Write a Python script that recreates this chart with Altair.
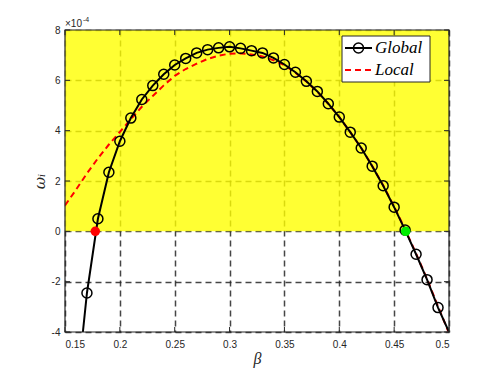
import altair as alt
import pandas as pd

# ---- data (omega_i in units of 1e-4) ----
global_beta = [0.17, 0.18, 0.19, 0.20, 0.21, 0.22, 0.23, 0.24, 0.25, 0.26, 0.27,
               0.28, 0.29, 0.30, 0.31, 0.32, 0.33, 0.34, 0.35, 0.36, 0.37, 0.38,
               0.39, 0.40, 0.41, 0.42, 0.43, 0.44, 0.45, 0.46, 0.47, 0.48, 0.49]
global_omega = [-2.45, 0.50, 2.35, 3.58, 4.50, 5.24, 5.79, 6.24, 6.61, 6.87, 7.09,
                7.22, 7.29, 7.33, 7.27, 7.18, 7.09, 6.89, 6.63, 6.32, 5.96, 5.56,
                5.07, 4.54, 3.94, 3.31, 2.59, 1.81, 0.96, 0.05, -0.91, -1.92, -3.03]
# line ends where it leaves the axes
global_line_beta = [0.1663] + global_beta + [0.50]
global_line_omega = [-4.0] + global_omega + [-4.0]

local_beta = [0.15, 0.16, 0.17, 0.18, 0.19, 0.20, 0.21, 0.22, 0.23, 0.24, 0.25,
              0.26, 0.27, 0.28, 0.29, 0.30, 0.31, 0.32, 0.33, 0.34, 0.35, 0.36,
              0.37, 0.38, 0.39, 0.40, 0.41, 0.42, 0.43, 0.44, 0.45, 0.46, 0.47,
              0.48, 0.49, 0.50]
local_omega = [1.03, 1.65, 2.30, 2.90, 3.45, 3.95, 4.45, 4.95, 5.38, 5.80, 6.18,
               6.45, 6.66, 6.85, 6.98, 7.06, 7.07, 7.03, 6.95, 6.80, 6.60, 6.30,
               5.95, 5.55, 5.07, 4.54, 3.94, 3.31, 2.60, 1.83, 0.98, 0.08, -0.88,
               -1.90, -2.98, -4.05]

red_point = [0.1776, 0.0]
green_point = [0.4605, 0.0]

x_ticks = [0.15, 0.2, 0.25, 0.3, 0.35, 0.4, 0.45, 0.5]
y_ticks = [-4, -2, 0, 2, 4, 6, 8]
band = [0, 8]

W, H = 384, 302
X_DOM = [0.15, 0.5]
Y_DOM = [-4, 8]
AX = "#262626"

xs = alt.Scale(domain=X_DOM, nice=False, zero=False)
ys = alt.Scale(domain=Y_DOM, nice=False, zero=False)

df_g = pd.DataFrame({"beta": global_beta, "omega": global_omega})
df_gl = pd.DataFrame({"beta": global_line_beta, "omega": global_line_omega})
df_l = pd.DataFrame({"beta": local_beta, "omega": local_omega})
df_pts = pd.DataFrame({"beta": [red_point[0], green_point[0]],
                       "omega": [red_point[1], green_point[1]],
                       "c": ["#FF0000", "#00EE00"]})
df_band = pd.DataFrame({"lo": [band[0]], "hi": [band[1]]})
df_xt = pd.DataFrame({"v": x_ticks})
df_yt = pd.DataFrame({"v": y_ticks})

x_axis = alt.Axis(values=x_ticks, format="~g", grid=True, gridDash=[6, 4],
                  gridColor=AX, gridOpacity=0.85, gridWidth=1.5, domain=False, ticks=False,
                  labelFont="Liberation Sans", labelFontSize=10, labelColor=AX,
                  labelPadding=7, title="β", titleFont="Liberation Serif",
                  titleFontStyle="italic", titleFontWeight="normal", titleFontSize=16,
                  titleColor=AX, titleY=26, titleBaseline="middle")
y_axis = alt.Axis(values=y_ticks, grid=True, gridDash=[6, 4], gridColor=AX,
                  gridOpacity=0.85, gridWidth=1.5, domain=False, ticks=False,
                  labelExpr="replace(datum.label, '−', '-')",
                  labelFont="Liberation Sans", labelFontSize=10, labelColor=AX,
                  labelPadding=5, title="ωᵢ", titleFont="DejaVu Serif",
                  titleFontStyle="italic", titleFontWeight="normal", titleFontSize=15,
                  titleColor=AX, titleX=-26, titleY=151, titleAngle=270,
                  titleAlign="center", titleBaseline="middle")

base_axes = alt.Chart(df_g).mark_point(opacity=0).encode(
    x=alt.X("beta:Q", scale=xs, axis=x_axis),
    y=alt.Y("omega:Q", scale=ys, axis=y_axis),
)

yellow = alt.Chart(df_band).mark_rect(color="#FFFF00", opacity=0.8).encode(
    x=alt.value(0), x2=alt.value(W),
    y=alt.Y("hi:Q", scale=ys), y2="lo:Q",
)

local_line = alt.Chart(df_l).mark_line(color="#FF0000", strokeWidth=2,
                                       strokeDash=[6, 4], clip=True).encode(
    x=alt.X("beta:Q", scale=xs), y=alt.Y("omega:Q", scale=ys))

global_line = alt.Chart(df_gl).mark_line(color="#000000", strokeWidth=2,
                                         clip=True).encode(
    x=alt.X("beta:Q", scale=xs), y=alt.Y("omega:Q", scale=ys))

global_pts = alt.Chart(df_g).mark_point(shape="circle", filled=False, color="#000000",
                                        size=100, strokeWidth=1.5, opacity=1).encode(
    x=alt.X("beta:Q", scale=xs), y=alt.Y("omega:Q", scale=ys))

dots = alt.Chart(df_pts).mark_point(shape="circle", filled=True, size=90,
                                    opacity=1).encode(
    x=alt.X("beta:Q", scale=xs), y=alt.Y("omega:Q", scale=ys),
    color=alt.Color("c:N", scale=None))

# inward ticks on all four sides
tk = 5
xt_bot = alt.Chart(df_xt).mark_rule(color=AX, strokeWidth=1).encode(
    x=alt.X("v:Q", scale=xs), y=alt.value(H - tk), y2=alt.value(H))
xt_top = alt.Chart(df_xt).mark_rule(color=AX, strokeWidth=1).encode(
    x=alt.X("v:Q", scale=xs), y=alt.value(0), y2=alt.value(tk))
yt_left = alt.Chart(df_yt).mark_rule(color=AX, strokeWidth=1).encode(
    y=alt.Y("v:Q", scale=ys), x=alt.value(0), x2=alt.value(tk))
yt_right = alt.Chart(df_yt).mark_rule(color=AX, strokeWidth=1).encode(
    y=alt.Y("v:Q", scale=ys), x=alt.value(W - tk), x2=alt.value(W))

frame = alt.Chart(df_band).mark_rect(filled=False, stroke=AX, strokeWidth=1.2,
                                     fill=None).encode(
    x=alt.value(0), x2=alt.value(W), y=alt.value(0), y2=alt.value(H))

# exponent label
exp1 = alt.Chart(df_band).mark_text(text="×10", font="Liberation Sans", fontSize=10,
                                    color=AX, align="left", baseline="middle").encode(
    x=alt.value(0), y=alt.value(-6))
exp2 = alt.Chart(df_band).mark_text(text="-4", font="Liberation Sans", fontSize=7,
                                    color=AX, align="left", baseline="middle").encode(
    x=alt.value(18), y=alt.value(-10))

# legend
LX0, LX1, LY0, LY1 = 277, 365, 6, 52
leg_box = alt.Chart(df_band).mark_rect(fill="white", stroke=AX, strokeWidth=1).encode(
    x=alt.value(LX0), x2=alt.value(LX1), y=alt.value(LY0), y2=alt.value(LY1))
leg_g_line = alt.Chart(df_band).mark_rule(color="#000000", strokeWidth=2).encode(
    x=alt.value(280), x2=alt.value(307), y=alt.value(18))
leg_g_pt = alt.Chart(df_band).mark_point(shape="circle", filled=False, color="#000000",
                                         size=100, strokeWidth=1.5, opacity=1).encode(
    x=alt.value(293.5), y=alt.value(18))
leg_l_line = alt.Chart(df_band).mark_rule(color="#FF0000", strokeWidth=2,
                                          strokeDash=[6, 4]).encode(
    x=alt.value(280), x2=alt.value(307), y=alt.value(40))
leg_g_txt = alt.Chart(df_band).mark_text(text="Global", font="Liberation Serif",
                                         fontStyle="italic", fontSize=17, color="#000000",
                                         align="left", baseline="middle").encode(
    x=alt.value(310), y=alt.value(18))
leg_l_txt = alt.Chart(df_band).mark_text(text="Local", font="Liberation Serif",
                                         fontStyle="italic", fontSize=17, color="#000000",
                                         align="left", baseline="middle").encode(
    x=alt.value(310), y=alt.value(40))

chart = alt.layer(
    base_axes, yellow, local_line, global_line, global_pts, dots,
    xt_bot, xt_top, yt_left, yt_right, frame, exp1, exp2,
    leg_box, leg_g_line, leg_g_pt, leg_l_line, leg_g_txt, leg_l_txt,
).properties(
    width=W, height=H,
    autosize=alt.AutoSizeParams(type="none"),
    padding={"left": 57, "top": 22, "right": 40, "bottom": 36},
    background="white",
).configure_view(stroke=None)

chart.save("out.html", embed_options={"renderer": "svg", "actions": False})
